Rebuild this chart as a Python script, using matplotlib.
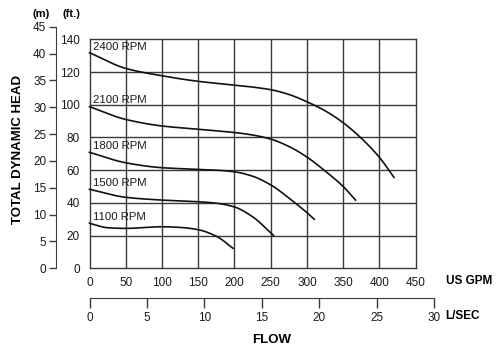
import matplotlib
matplotlib.use("Agg")
import matplotlib.pyplot as plt
import numpy as np

plt.rcParams['font.family'] = ['Liberation Sans', 'DejaVu Sans']

# Data (flow in US GPM, head in ft)
gpm_2400 = [0, 50, 100, 150, 200, 225, 250, 275, 300, 325, 350, 375, 400, 420]
ft_2400 = [131.8, 122.2, 117.7, 114.3, 112.0, 110.8, 109.2, 106.3, 101.8, 96.3, 89.0, 79.5, 67.8, 55.6]
gpm_2100 = [0, 50, 100, 150, 200, 225, 250, 275, 300, 325, 350, 367]
ft_2100 = [98.8, 91.0, 87.0, 85.0, 83.0, 81.5, 79.0, 74.5, 68.0, 59.5, 50.0, 41.7]
gpm_1800 = [0, 50, 100, 150, 175, 200, 225, 250, 275, 300, 310]
ft_1800 = [70.9, 64.5, 61.5, 60.5, 60.0, 59.0, 56.3, 51.0, 43.0, 34.0, 30.0]
gpm_1500 = [0, 50, 100, 150, 175, 200, 225, 254]
ft_1500 = [48.3, 43.4, 41.7, 40.7, 39.8, 37.5, 31.5, 20.0]
gpm_1100 = [0, 25, 50, 100, 125, 150, 175, 198]
ft_1100 = [27.5, 24.8, 24.4, 25.4, 25.0, 23.6, 19.6, 12.2]

rpm_labels = ['2400 RPM', '2100 RPM', '1800 RPM', '1500 RPM', '1100 RPM']
label_y_ft = [135.3, 102.9, 74.8, 52.3, 31.2]

gpm_ticks = [0, 50, 100, 150, 200, 250, 300, 350, 400, 450]
ft_ticks = [0, 20, 40, 60, 80, 100, 120, 140]
m_ticks = [0, 5, 10, 15, 20, 25, 30, 35, 40, 45]
lsec_ticks = [0, 5, 10, 15, 20, 25, 30]

W, H = 500, 354
fig = plt.figure(figsize=(5, 3.54), dpi=100)

def px(x0, y0, x1, y1):
    return [x0 / W, 1 - y1 / H, (x1 - x0) / W, (y1 - y0) / H]

ax = fig.add_axes(px(89.5, 39.3, 415.7, 268.3))
ax.set_xlim(0, 450)
ax.set_ylim(0, 140)
grid_c = '#3a3a3a'
for g in gpm_ticks[1:-1]:
    ax.axvline(g, color=grid_c, lw=1.0, zorder=1)
for f in ft_ticks[1:-1]:
    ax.axhline(f, color=grid_c, lw=1.0, zorder=1)
for s in ax.spines.values():
    s.set_color(grid_c)
    s.set_linewidth(1.0)

def smooth(xs, ys):
    xs = np.asarray(xs, float); ys = np.asarray(ys, float)
    xx = np.linspace(xs[0], xs[-1], 300)
    h = np.diff(xs); d = np.diff(ys) / h
    m = np.zeros_like(ys)
    m[0] = d[0]; m[-1] = d[-1]
    for i in range(1, len(xs) - 1):
        if d[i - 1] * d[i] <= 0:
            m[i] = 0
        else:
            w1 = 2 * h[i] + h[i - 1]; w2 = h[i] + 2 * h[i - 1]
            m[i] = (w1 + w2) / (w1 / d[i - 1] + w2 / d[i])
    yy = np.empty_like(xx)
    idx = np.clip(np.searchsorted(xs, xx) - 1, 0, len(xs) - 2)
    for j, (x, i) in enumerate(zip(xx, idx)):
        t = (x - xs[i]) / h[i]
        h00 = 2*t**3 - 3*t**2 + 1; h10 = t**3 - 2*t**2 + t
        h01 = -2*t**3 + 3*t**2; h11 = t**3 - t**2
        yy[j] = h00*ys[i] + h10*h[i]*m[i] + h01*ys[i+1] + h11*h[i]*m[i+1]
    return xx, yy

for xs, ys in [(gpm_2400, ft_2400), (gpm_2100, ft_2100), (gpm_1800, ft_1800),
               (gpm_1500, ft_1500), (gpm_1100, ft_1100)]:
    xx, yy = smooth(xs, ys)
    ax.plot(xx, yy, color='#111111', lw=1.2, zorder=3, clip_on=False)

for lab, yv in zip(rpm_labels, label_y_ft):
    ax.text(4.5, yv, lab, fontsize=8.2, va='center', ha='left', color='#1a1a1a', zorder=4)

ax.set_xticks(gpm_ticks)
ax.set_xticklabels([str(t) for t in gpm_ticks])
ax.set_yticks(ft_ticks)
ax.set_yticklabels([str(t) for t in ft_ticks])
ax.tick_params(axis='both', length=0, labelsize=8.5, colors='#1a1a1a')
ax.tick_params(axis='x', pad=6)
ax.tick_params(axis='y', pad=7)

# meters axis
axm = fig.add_axes(px(56, 26.8, 60, 268.3))
axm.set_ylim(0, 45)
axm.set_xlim(0, 1)
for k in ['top', 'right', 'bottom']:
    axm.spines[k].set_visible(False)
axm.spines['left'].set_color(grid_c)
axm.set_xticks([])
axm.set_yticks(m_ticks)
axm.set_yticklabels([str(t) for t in m_ticks])
axm.tick_params(axis='y', direction='out', length=5, width=1, color=grid_c,
                labelsize=8.5, pad=2, labelcolor='#1a1a1a')
axm.patch.set_visible(False)

# L/SEC axis
axl = fig.add_axes(px(89.5, 290, 434.2, 298.3))
axl.set_xlim(0, 30)
axl.set_ylim(0, 1)
for k in ['top', 'right', 'left']:
    axl.spines[k].set_visible(False)
axl.spines['bottom'].set_color(grid_c)
axl.set_yticks([])
axl.set_xticks(lsec_ticks)
axl.set_xticklabels([str(t) for t in lsec_ticks])
axl.tick_params(axis='x', direction='out', length=7, width=1, color=grid_c,
                labelsize=8.5, pad=3, labelcolor='#1a1a1a')
axl.patch.set_visible(False)

# Texts
fig.text(445.7 / W, 1 - 281 / H, 'US GPM', fontsize=8.5, fontweight='bold', va='center', ha='left')
fig.text(445.7 / W, 1 - 315.7 / H, 'L/SEC', fontsize=8.5, fontweight='bold', va='center', ha='left')
fig.text(272 / W, 1 - 340 / H, 'FLOW', fontsize=9.5, fontweight='bold', va='center', ha='center')
fig.text(18 / W, 1 - 150 / H, 'TOTAL DYNAMIC HEAD', fontsize=9.5, fontweight='bold',
         va='center', ha='center', rotation=90)
fig.text(41.5 / W, 1 - 14 / H, '(m)', fontsize=8, fontweight='bold', va='center', ha='center')
fig.text(71.5 / W, 1 - 14 / H, '(ft.)', fontsize=8, fontweight='bold', va='center', ha='center')

fig.savefig('out.png', dpi=100)
